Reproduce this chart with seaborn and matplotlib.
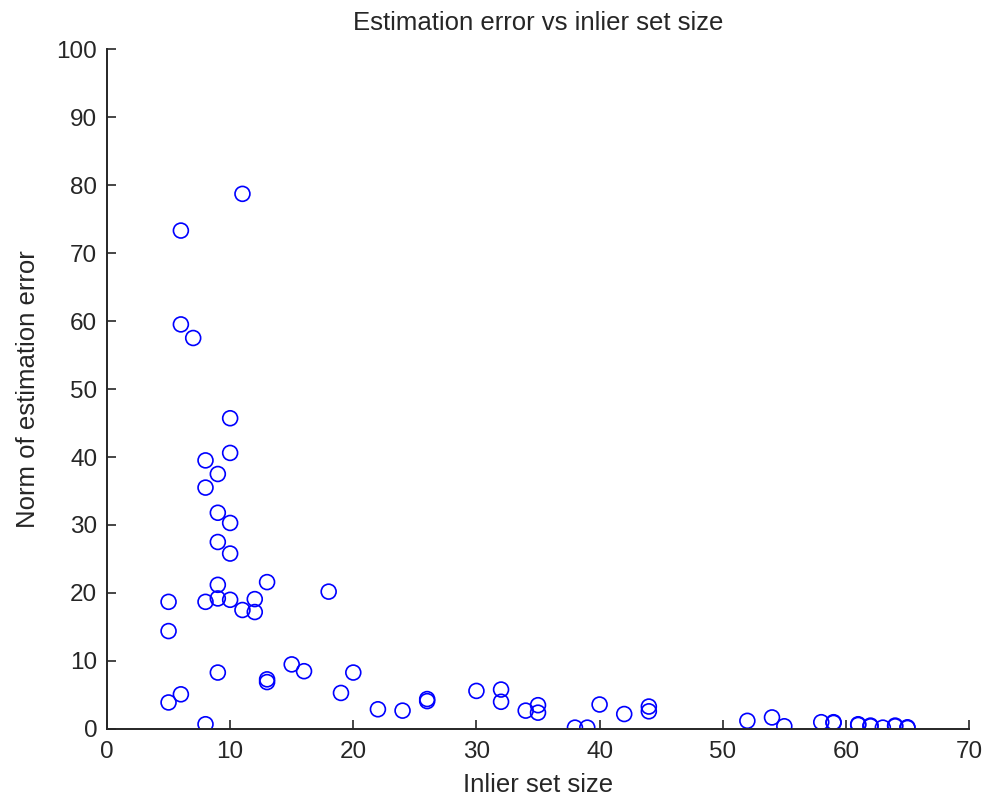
import matplotlib
matplotlib.use("Agg")
import matplotlib.pyplot as plt
import seaborn as sns
import pandas as pd

inlier_size = [11, 6, 6, 7, 10, 10, 8, 9, 8, 9, 10, 9, 10,
               9, 13, 18, 5, 8, 9, 10, 12, 11, 12, 5,
               15, 16, 20, 9, 13, 13, 6, 5, 19, 8, 22, 24,
               26, 26, 30, 32, 32, 34, 35, 35, 38, 39, 40, 42, 44, 44,
               52, 54, 55, 58, 59, 59, 61, 61, 62, 62, 63, 64, 64, 65, 65]
error_norm = [78.7, 73.3, 59.5, 57.5, 45.7, 40.6, 39.5, 37.5, 35.5, 31.8, 30.3, 27.5, 25.8,
              21.2, 21.6, 20.2, 18.7, 18.7, 19.2, 19.0, 19.1, 17.5, 17.2, 14.4,
              9.5, 8.5, 8.3, 8.3, 7.3, 6.9, 5.1, 3.9, 5.3, 0.7, 2.9, 2.7,
              4.4, 4.1, 5.6, 5.8, 4.0, 2.7, 3.5, 2.4, 0.2, 0.2, 3.6, 2.2, 3.3, 2.6,
              1.2, 1.7, 0.4, 1.0, 0.9, 1.0, 0.7, 0.6, 0.4, 0.5, 0.2, 0.5, 0.4, 0.25, 0.15]

x_ticks = [0, 10, 20, 30, 40, 50, 60, 70]
y_ticks = [0, 10, 20, 30, 40, 50, 60, 70, 80, 90, 100]

df = pd.DataFrame({"size": inlier_size, "err": error_norm})

sns.set_style("white")
plt.rcParams['font.family'] = ['Liberation Sans', 'DejaVu Sans']

fig = plt.figure(figsize=(9.87, 8.01), dpi=100)
ax = fig.add_axes([0.1084, 0.0899, 0.8734, 0.8489])

sns.scatterplot(data=df, x="size", y="err", ax=ax, marker="o",
                facecolors="none", edgecolor="#0000ff", linewidth=1.2, s=115)

ax.set_xlim(0, 70)
ax.set_ylim(0, 100)
ax.set_xticks(x_ticks)
ax.set_yticks(y_ticks)
ax.tick_params(bottom=True, left=True, direction="in", length=6.5, width=1.2,
               labelsize=17.5, colors="#262626")
ax.tick_params(axis="x", pad=9)
ax.tick_params(axis="y", pad=7)
for side in ["top", "right"]:
    ax.spines[side].set_visible(False)
for side in ["left", "bottom"]:
    ax.spines[side].set_color("#262626")
    ax.spines[side].set_linewidth(1.4)

ax.set_title("Estimation error vs inlier set size", fontsize=18.5, color="#262626", pad=14)
ax.set_xlabel("Inlier set size", fontsize=18.5, color="#262626", labelpad=7)
ax.set_ylabel("Norm of estimation error", fontsize=18.5, color="#262626", labelpad=12)

fig.savefig("out.png", dpi=100, facecolor="white")
